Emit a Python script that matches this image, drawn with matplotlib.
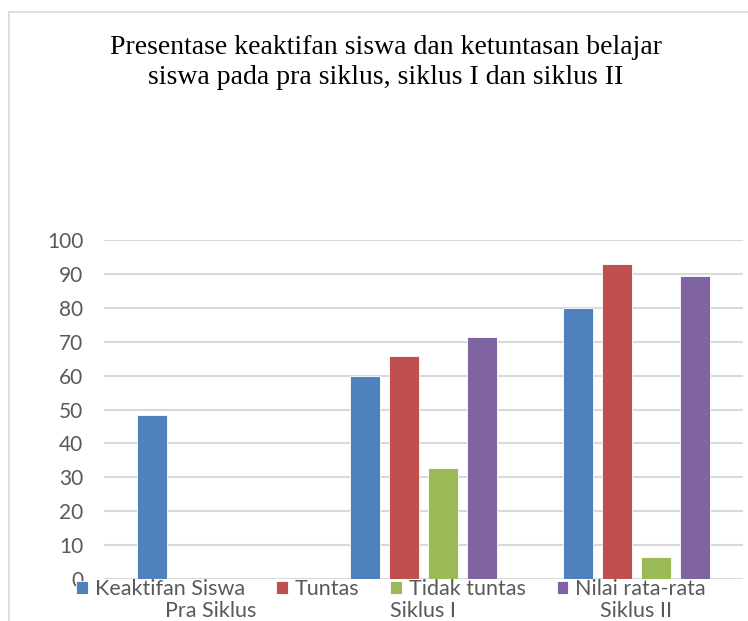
import matplotlib.pyplot as plt
import numpy as np
from matplotlib.patches import Rectangle

categories = ['Pra Siklus', 'Siklus I', 'Siklus II']
series_names = ['Keaktifan Siswa', 'Tuntas', 'Tidak tuntas', 'Nilai rata-rata']
keaktifan = [48.3, 60, 80]
tuntas = [0, 65.8, 92.8]
tidak_tuntas = [0, 32.8, 6.5]
nilai_rata = [0, 71.4, 89.4]
colors = ['#4F81BD', '#C0504D', '#9BBB59', '#8064A2']

W, H = 748, 621
fig = plt.figure(figsize=(W / 100, H / 100), dpi=100)

# chart border (cropped on right/bottom)
fig.patches.append(Rectangle((9 / W, -0.05), 1.2, 1 - 12 / H + 0.05, transform=fig.transFigure,
                             fill=False, edgecolor='#d9d9d9', linewidth=1.2))

ax = fig.add_axes([104 / W, 1 - 579 / H, 639 / W, 339 / H])

x = np.arange(len(categories))
step = 0.183
width = 0.141
all_series = [keaktifan, tuntas, tidak_tuntas, nilai_rata]
handles = []
for i, (vals, name, c) in enumerate(zip(all_series, series_names, colors)):
    b = ax.bar(x + (i - 1.5) * step, vals, width, color=c, label=name,
               edgecolor='white', linewidth=0.6, zorder=3)
    handles.append(b)

ax.set_xlim(-0.5, 2.5)
ax.set_ylim(0, 100)
ax.set_yticks(range(0, 101, 10))
ax.grid(axis='y', color='#d9d9d9', linewidth=1.5, zorder=0)
for s in ax.spines.values():
    s.set_visible(False)
ax.tick_params(length=0)
ax.tick_params(axis='y', pad=15, labelsize=15, labelcolor='#595959')
ax.tick_params(axis='x', pad=16, labelsize=15.5, labelcolor='#595959')
ax.set_xticks(x)
ax.set_xticklabels(categories)
for lab in ax.get_xticklabels() + ax.get_yticklabels():
    lab.set_family('Lato')

fig.text(386 / W, 1 - 62.5 / H, 'Presentase keaktifan siswa dan ketuntasan belajar\nsiswa pada pra siklus, siklus I dan siklus II',
         ha='center', va='center', family='Liberation Serif', fontsize=20, linespacing=1.25)

fig.legend(handles=handles, loc='center', bbox_to_anchor=(391 / W, 1 - 589 / H), ncol=4,
           frameon=False, prop={'family': 'Lato', 'size': 15.5}, labelcolor='#595959',
           handlelength=0.55, handleheight=0.55, handletextpad=0.3, columnspacing=1.45,
           borderpad=0, borderaxespad=0)

fig.savefig('out.png', dpi=100)
